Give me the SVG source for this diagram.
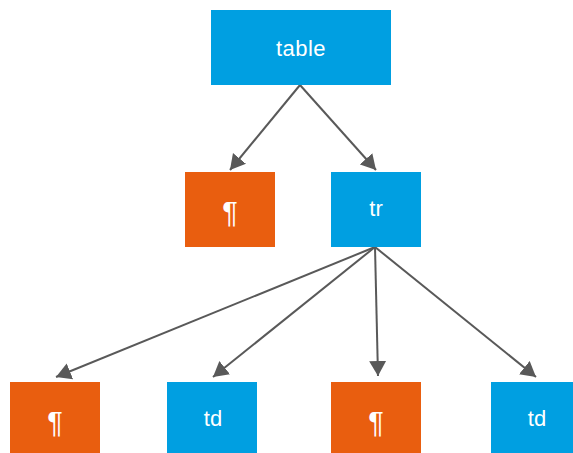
<svg xmlns="http://www.w3.org/2000/svg" width="573" height="453" viewBox="0 0 573 453">
<style>
.blue{fill:#009FE1}
.orange{fill:#E95E0F}
.lbl{fill:#fff;font-family:"Liberation Sans",Arial,sans-serif;font-size:22px;text-anchor:middle}
.pil{font-size:29px}
.edge{stroke:#595959;stroke-width:2;fill:none}
</style>
<defs>
<marker id="ah" markerUnits="userSpaceOnUse" markerWidth="17" markerHeight="18" refX="15" refY="9" orient="auto">
<path d="M0,0.5 L15,9 L0,17.5 z" fill="#595959"/>
</marker>
</defs>
<rect width="573" height="453" fill="#fff"/>
<g id="connectors">
<line class="edge" x1="300" y1="85" x2="230" y2="170" marker-end="url(#ah)"/>
<line class="edge" x1="300" y1="85" x2="376" y2="170" marker-end="url(#ah)"/>
<line class="edge" x1="375" y1="247" x2="56" y2="377" marker-end="url(#ah)"/>
<line class="edge" x1="375" y1="247" x2="213" y2="377" marker-end="url(#ah)"/>
<line class="edge" x1="375" y1="247" x2="378" y2="376" marker-end="url(#ah)"/>
<line class="edge" x1="375" y1="247" x2="536" y2="377" marker-end="url(#ah)"/>
</g>
<g id="table"><rect class="blue" x="211" y="10" width="180" height="75"/><text class="lbl" x="301" y="56" letter-spacing="0.5">table</text></g>
<g id="para1"><rect class="orange" x="185" y="172" width="90" height="75"/><text class="lbl pil" x="230" y="222">¶</text></g>
<g id="tr"><rect class="blue" x="331" y="172" width="90" height="75"/><text class="lbl" x="376" y="215.5">tr</text></g>
<g id="para2"><rect class="orange" x="10" y="382" width="90" height="75"/><text class="lbl pil" x="55" y="432">¶</text></g>
<g id="td1"><rect class="blue" x="167" y="382" width="90" height="75"/><text class="lbl" x="213" y="426">td</text></g>
<g id="para3"><rect class="orange" x="331" y="382" width="90" height="75"/><text class="lbl pil" x="376" y="432">¶</text></g>
<g id="td2"><rect class="blue" x="491" y="382" width="90" height="75"/><text class="lbl" x="537" y="426">td</text></g>
</svg>
